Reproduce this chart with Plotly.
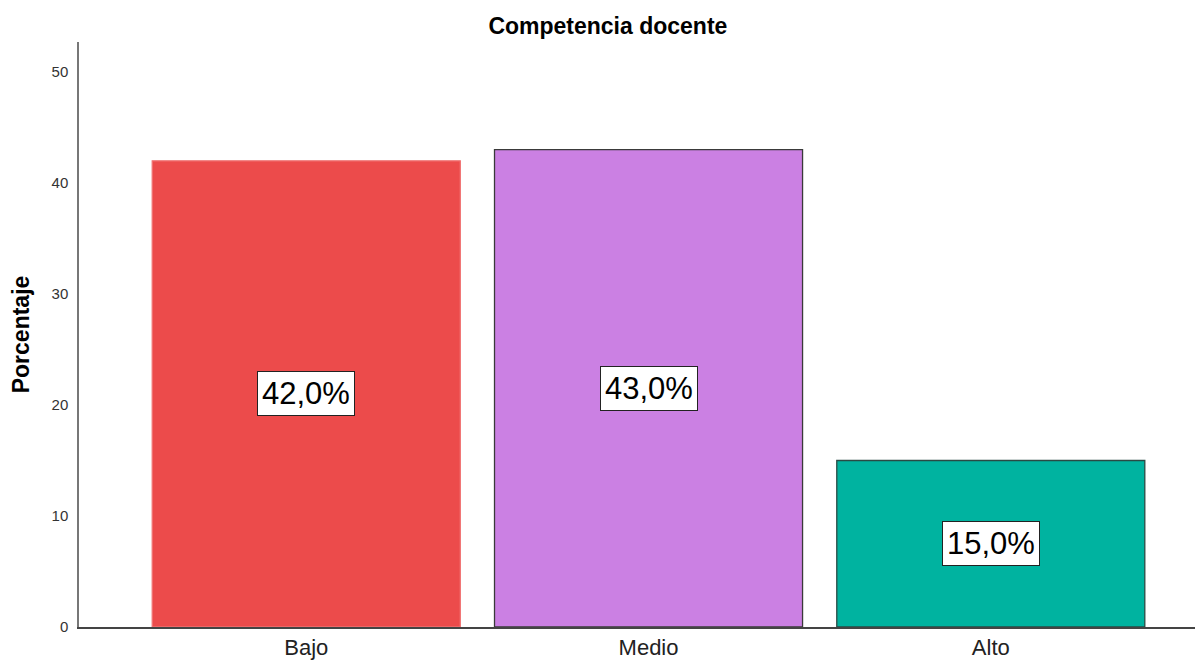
import plotly.graph_objects as go

categories = ["Bajo", "Medio", "Alto"]
values = [42.0, 43.0, 15.0]
labels = ["42,0%", "43,0%", "15,0%"]
colors = ["#EC4B4B", "#CB80E3", "#00B3A0"]
outline = ["#F07070", "#3A3A3A", "#2A4A44"]
y_ticks = [0, 10, 20, 30, 40, 50]

FONT = "Liberation Sans, Arial"

fig = go.Figure()
fig.add_trace(go.Bar(
    x=categories, y=values,
    marker=dict(color=colors, line=dict(color=outline, width=1.3)),
    width=0.9,
    hoverinfo="skip",
))

for c, v, t in zip(categories, values, labels):
    fig.add_annotation(
        x=c, y=v / 2, text=t, showarrow=False,
        font=dict(family=FONT, size=31, color="#000000"),
        bgcolor="#FFFFFF", bordercolor="#222222", borderwidth=1, borderpad=4,
    )

fig.update_layout(
    width=1195, height=652,
    margin=dict(l=71, r=0, t=34, b=28),
    plot_bgcolor="#FFFFFF", paper_bgcolor="#FFFFFF",
    showlegend=False,
    title=dict(text="<b>Competencia docente</b>", x=0.502, xanchor="center",
               y=0.972, yanchor="middle",
               font=dict(family=FONT, size=23, color="#000000")),
    xaxis=dict(
        type="category", range=[-0.664, 2.62],
        showline=True, linecolor="#444444", linewidth=1.5,
        ticks="", showgrid=False, zeroline=False,
        tickfont=dict(family=FONT, size=22, color="#222222"),
    ),
    yaxis=dict(
        range=[0, 52.7], tickvals=y_ticks,
        showline=True, linecolor="#777777", linewidth=1.5,
        ticks="outside", ticklen=6, tickcolor="rgba(0,0,0,0)",
        showgrid=False, zeroline=False,
        tickfont=dict(family=FONT, size=15, color="#333333"),
        title=dict(text="<b>Porcentaje</b>", standoff=20,
                   font=dict(family=FONT, size=23, color="#000000")),
    ),
)

fig.write_html("out.html")
